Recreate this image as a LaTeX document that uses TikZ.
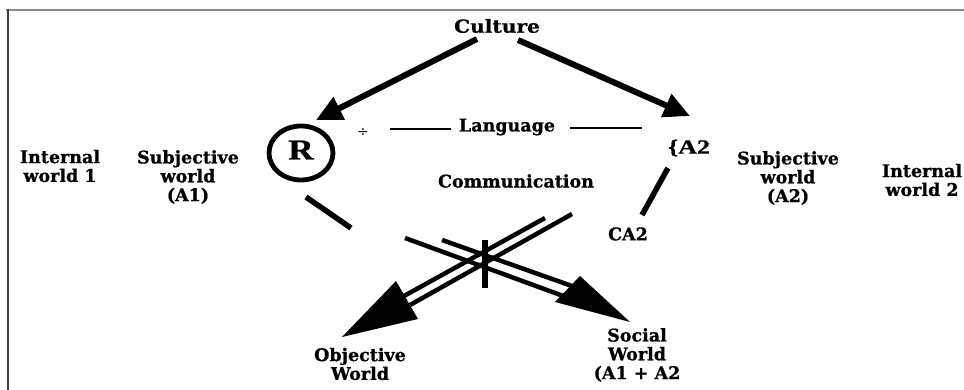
\documentclass[tikz,border=0pt]{standalone}
\usepackage{fontspec}
\setmainfont{DejaVu Serif}[BoldFeatures={FakeBold=0.8}]
\newfontfamily\timesfont{Liberation Serif}[BoldFeatures={FakeBold=0.8}]
\usetikzlibrary{arrows.meta,shapes.geometric}
\tikzset{
  lbl/.style={font=\bfseries\fontsize{17.5}{18.8}\selectfont, align=center, inner sep=0pt},
  bigline/.style={line width=5.5pt},
  dbl/.style={line width=4.5pt},
  thinline/.style={line width=2.8pt},
  culturearrow/.style={line width=6pt, -{Triangle[length=26pt,width=24pt]}},
}
\begin{document}
\begin{tikzpicture}[x=1pt,y=-1pt]
\useasboundingbox (0,0) rectangle (964,390);
% frame
\draw[black!45, line width=2pt] (6,10) -- (964,10);
\draw[black!75, line width=2pt] (8,9) -- (8,390);

% texts
\node[lbl, font=\bfseries\fontsize{18}{19}\selectfont, xscale=1.12] (culture) at (497,26) {Culture};
\node[lbl] (int1) at (60,166) {Internal\\world 1};
\node[lbl] (subj1) at (188,177) {Subjective\\world\\(A1)};
\node[lbl] (subj2) at (788,178) {Subjective\\world\\(A2)};
\node[lbl] (int2) at (922,180) {Internal\\world 2};
\node[lbl] (lang) at (507,127) {Language};
\node[lbl] (comm) at (516,181) {Communication};
\node[lbl] (ca2) at (628,234) {CA2};
\node[lbl, font=\timesfont\bfseries\fontsize{20}{20}\selectfont, xscale=1.3] (a2) at (689,148) {\{A2};
\node[lbl] (obj) at (360,364) {Objective\\World};
\node[lbl] (soc) at (637,355) {Social\\World\\(A1 + A2};
\node[font=\fontsize{14}{14}\selectfont, inner sep=0pt] (div) at (363,133) {÷};

% R circle
\node[draw, ellipse, line width=4.8pt, minimum width=64pt, minimum height=54pt, inner sep=0pt] (rc) at (301,153) {};
\node[font=\timesfont\bfseries\fontsize{29}{29}\selectfont, xscale=1.22, inner sep=0pt] (r) at (301,150) {R};

% culture arrows
\coordinate (c1) at (477,39);
\coordinate (t1) at (316,120);
\coordinate (c2) at (518,40);
\coordinate (t2) at (690,116);
\draw[culturearrow] (c1) -- (t1);
\draw[culturearrow] (c2) -- (t2);

% language lines
\coordinate (l1a) at (390,129); \coordinate (l1b) at (451,129);
\coordinate (l2a) at (570,128); \coordinate (l2b) at (642,128);
\draw[thinline] (l1a) -- (l1b);
\draw[thinline] (l2a) -- (l2b);

% side lines
\coordinate (s1a) at (306,197); \coordinate (s1b) at (351,228);
\coordinate (s2a) at (668,168); \coordinate (s2b) at (642,215);
\draw[bigline] (s1a) -- (s1b);
\draw[bigline] (s2a) -- (s2b);

% objective world double arrow
\coordinate (oa1) at (545,218); \coordinate (oa2) at (404,296);
\coordinate (ob1) at (572,214); \coordinate (ob2) at (410,305);
\coordinate (otip) at (342,337); \coordinate (oc1) at (396,281); \coordinate (oc2) at (418,319);
\draw[dbl] (oa1) -- (oa2);
\draw[dbl] (ob1) -- (ob2);
\fill (otip) -- (oc1) -- (oc2) -- cycle;

% social world double arrow
\coordinate (sa1) at (442,240); \coordinate (sa2) at (572,286);
\coordinate (sb1) at (405,238); \coordinate (sb2) at (566,297);
\coordinate (stip) at (630,322); \coordinate (sc1) at (580,276); \coordinate (sc2) at (555,302);
\draw[dbl] (sa1) -- (sa2);
\draw[dbl] (sb1) -- (sb2);
\fill (stip) -- (sc1) -- (sc2) -- cycle;

% vertical tick
\coordinate (v1) at (485,240); \coordinate (v2) at (485,288);
\draw[bigline] (v1) -- (v2);
\end{tikzpicture}
\end{document}
